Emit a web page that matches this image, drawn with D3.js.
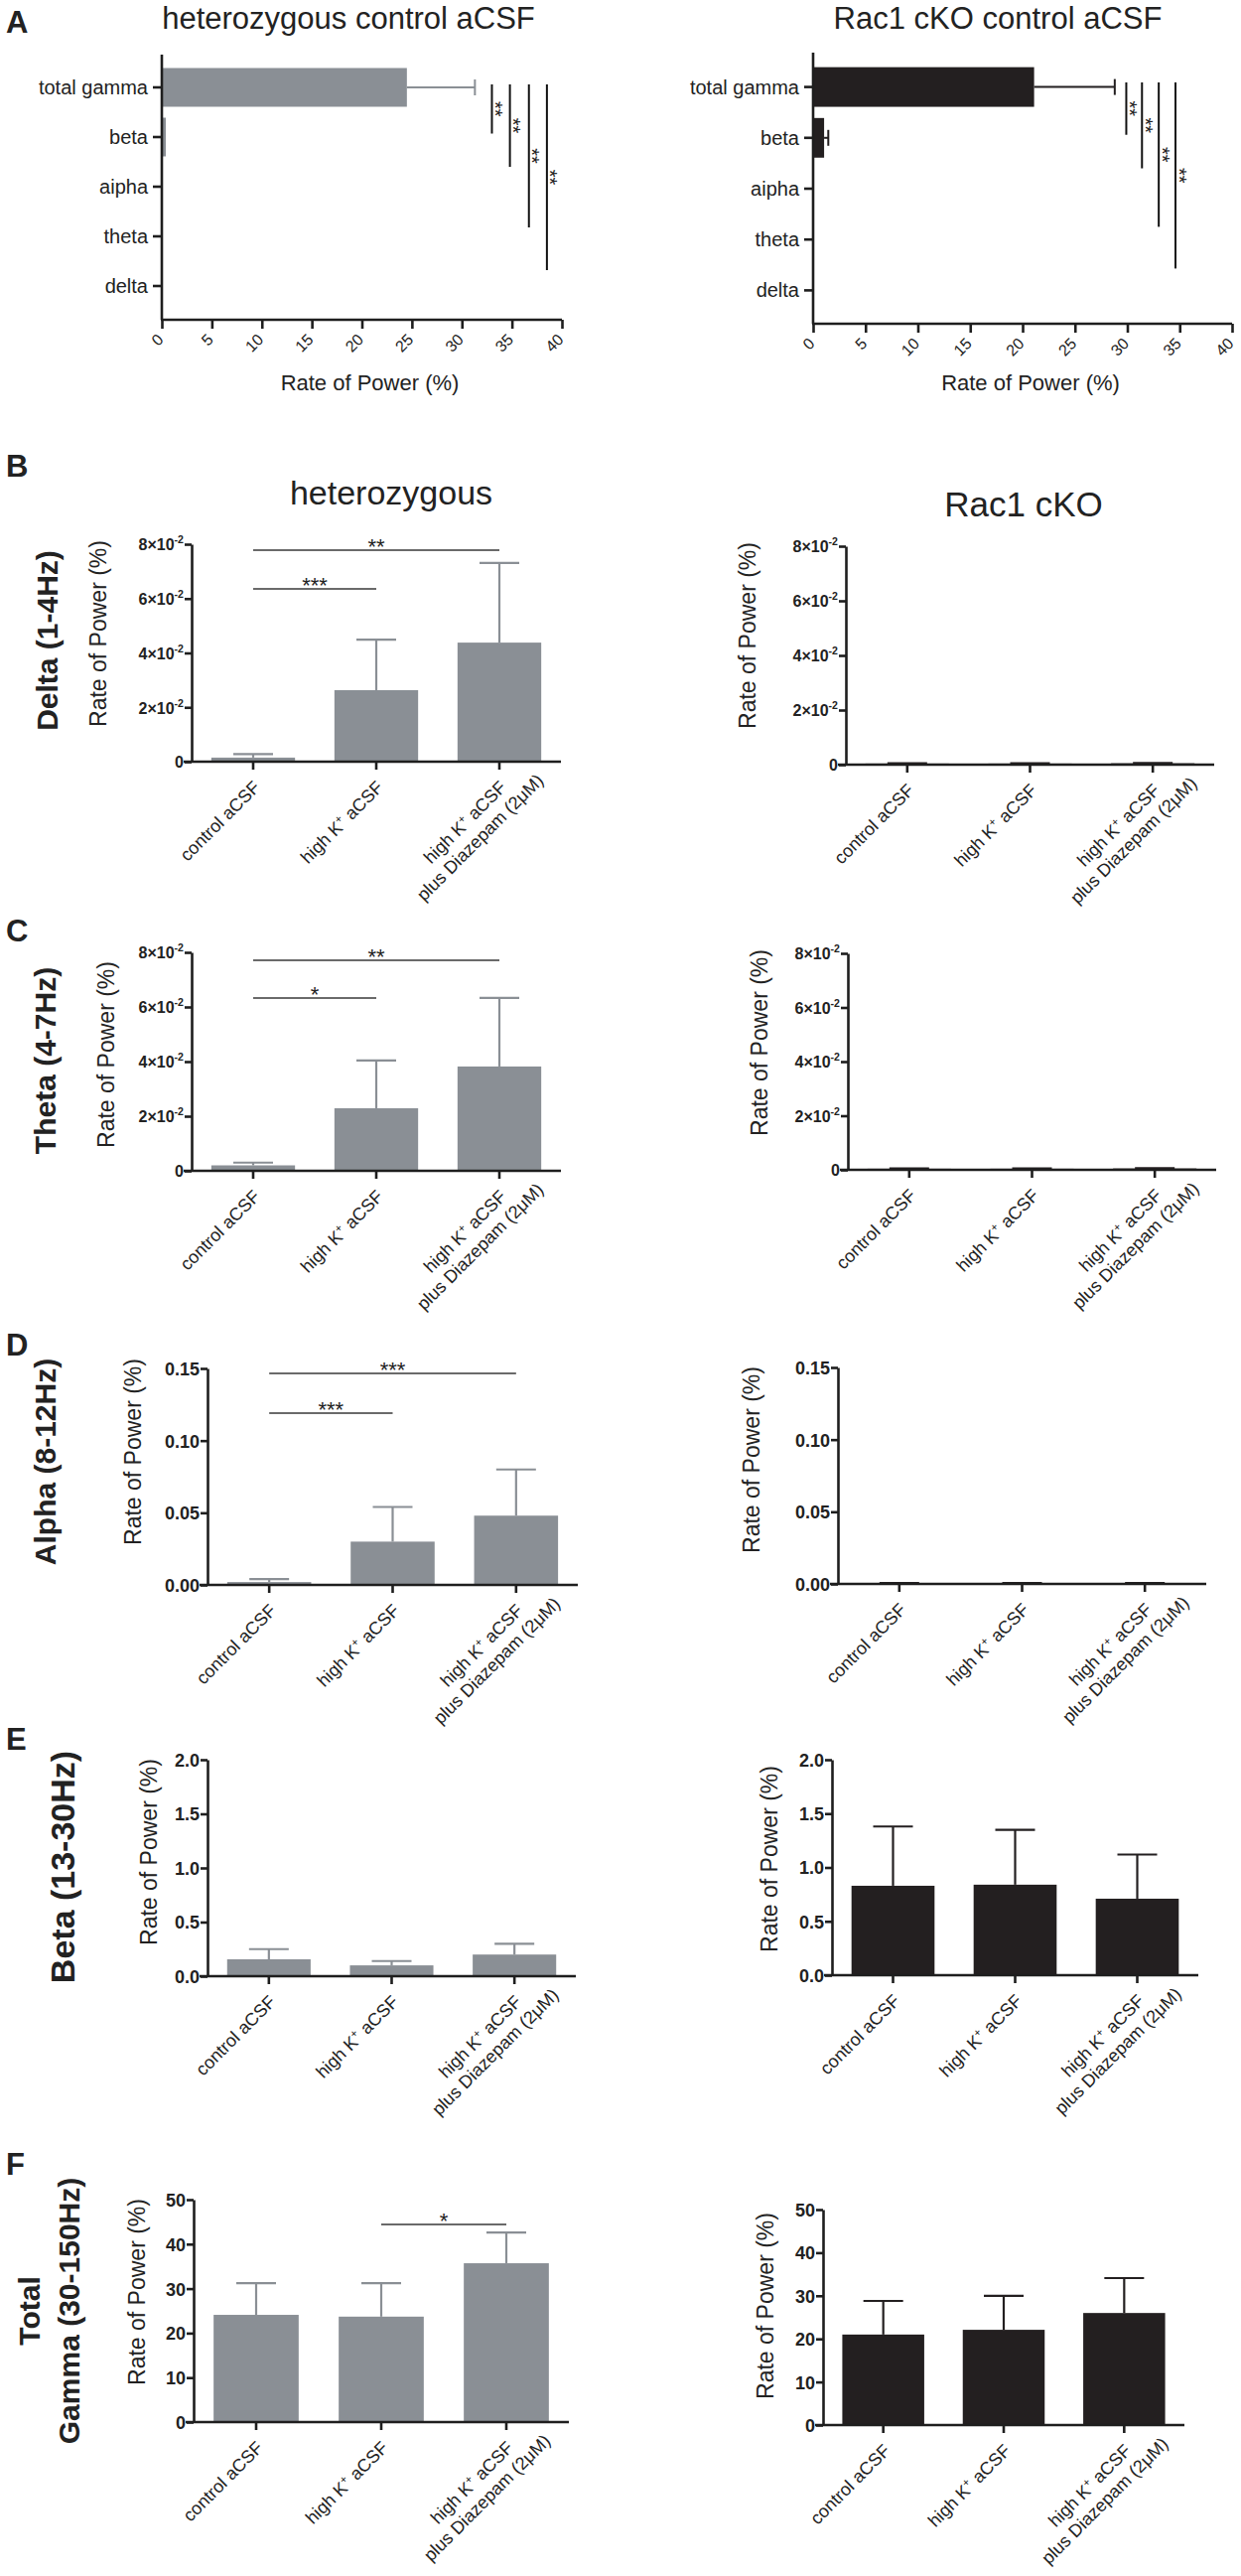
<!DOCTYPE html>
<html>
<head>
<meta charset="utf-8">
<script src="https://cdn.jsdelivr.net/npm/d3@7"></script>
<style>
body { margin: 0; background: #fff; }
text { font-family: "Liberation Sans", Arial, sans-serif; fill: #222; }
</style>
</head>
<body>
<script>
var width = 1250,
    height = 2594;

// ---------- data ----------
// panel A : control aCSF, rate of power per band
var bands = ['total gamma', 'beta', 'aipha', 'theta', 'delta'];
var hetCtrl    = [24.5, 0.4, 0.003, 0.002, 0.0015];
var hetCtrlErr = [6.8, 0, 0, 0, 0];
var koCtrl     = [21.1, 1.05, 0.0005, 0.0004, 0.0004];
var koCtrlErr  = [7.7, 0.4, 0, 0, 0];
var powerTicks = [0, 5, 10, 15, 20, 25, 30, 35, 40];
// significance lines in A: x position (%), end position (band index)
var hetSigA = [{x: 33.0, to: 0.93}, {x: 34.8, to: 1.6}, {x: 36.7, to: 2.82}, {x: 38.5, to: 3.68}];
var koSigA  = [{x: 29.9, to: 0.94}, {x: 31.4, to: 1.6}, {x: 33.0, to: 2.75}, {x: 34.6, to: 3.57}];

// panels B-F : three conditions ("|" = line break)
var conditions = ['control aCSF', 'high K+ aCSF', 'high K+ aCSF|plus Diazepam (2μM)'];

var deltaHet = [0.0015, 0.0263, 0.0438], deltaHetErr = [0.0013, 0.0186, 0.0293];
var deltaKo  = [0.0004, 0.0004, 0.0005], deltaKoErr  = [0.0001, 0.0001, 0.0001];
var deltaSig = [{a: 0, b: 1, y: 0.0636, t: '***'}, {a: 0, b: 2, y: 0.0778, t: '**'}];
var sciTicks = [0, 0.02, 0.04, 0.06, 0.08];

var thetaHet = [0.002, 0.0229, 0.0382], thetaHetErr = [0.001, 0.0175, 0.0251];
var thetaKo  = [0.0004, 0.0004, 0.0005], thetaKoErr  = [0.0001, 0.0001, 0.0001];
var thetaSig = [{a: 0, b: 1, y: 0.0633, t: '*'}, {a: 0, b: 2, y: 0.0771, t: '**'}];

var alphaHet = [0.002, 0.030, 0.048], alphaHetErr = [0.002, 0.024, 0.032];
var alphaKo  = [0.0005, 0.0005, 0.0006], alphaKoErr = [0.0001, 0.0001, 0.0001];
var alphaSig = [{a: 0, b: 1, y: 0.119, t: '***'}, {a: 0, b: 2, y: 0.1465, t: '***'}];
var alphaTicks = [0, 0.05, 0.10, 0.15];

var betaHet = [0.156, 0.10, 0.20], betaHetErr = [0.094, 0.04, 0.10];
var betaKo  = [0.83, 0.84, 0.71],  betaKoErr  = [0.55, 0.51, 0.41];
var betaTicks = [0, 0.5, 1.0, 1.5, 2.0];

var gammaHet = [24.1, 23.7, 35.7], gammaHetErr = [7.1, 7.5, 6.9];
var gammaKo  = [21.0, 22.1, 26.0], gammaKoErr  = [7.8, 7.9, 8.1];
var gammaSig = [{a: 1, b: 2, y: 44.4, t: '*'}];
var gammaTicks = [0, 10, 20, 30, 40, 50];

var hetColor = '#8a8f95',
    koColor = '#231f20',
    axisColor = '#1e1e1e';

var svg = d3.select('body')
            .append('svg')
            .attr('width', width)
            .attr('height', height);

// text with a superscript "+" after K
function richText(t, str) {
    if (str.indexOf('K+') < 0) { t.append('tspan').text(str); return; }
    var parts = str.split('K+');
    t.append('tspan').text(parts[0] + 'K');
    t.append('tspan').attr('dy', -7).attr('font-size', '0.62em').text('+');
    t.append('tspan').attr('dy', 7).text(parts[1]);
}

function styleAxis(g) {
    g.attr('color', axisColor);
    g.selectAll('path, line').attr('stroke-width', 2.6);
}

function letter(txt, y) {
    svg.append('text').attr('x', 6).attr('y', y)
       .attr('font-size', 31).attr('font-weight', 'bold').attr('fill', '#000').text(txt);
}

function vtext(txt, x, y, size, weight) {
    return svg.append('text')
       .attr('transform', 'translate(' + x + ',' + y + ') rotate(-90)')
       .attr('text-anchor', 'middle')
       .attr('font-size', size)
       .attr('font-weight', weight || 'normal')
       .text(txt);
}

// ---------- panel A ----------
function drawA(geo, vals, errs, color, sigs, title) {
    var x = d3.scaleLinear().domain([0, 40]).range([geo.x0, geo.x1]);
    var y = d3.scaleBand().domain(bands).range([geo.b0, geo.b1]).paddingInner(0.22).paddingOuter(0.11);
    var yi = d3.scaleLinear().domain([0, 4]).range([y(bands[0]) + y.bandwidth() / 2, y(bands[4]) + y.bandwidth() / 2]);
    var yc = i => y(bands[i]) + y.bandwidth() / 2;
    var g = svg.append('g');

    g.selectAll('.bar').data(vals).enter().append('rect')
        .attr('x', geo.x0)
        .attr('y', (d, i) => y(bands[i]))
        .attr('width', d => x(d) - geo.x0)
        .attr('height', y.bandwidth())
        .attr('fill', color);

    var idx = d3.range(vals.length).filter(i => errs[i] > 0);
    var eb = g.selectAll('.err').data(idx).enter().append('g')
        .attr('stroke', color).attr('stroke-width', 2);
    eb.append('line')
        .attr('x1', i => x(vals[i])).attr('x2', i => x(vals[i] + errs[i]))
        .attr('y1', yc).attr('y2', yc);
    eb.append('line')
        .attr('x1', i => x(vals[i] + errs[i])).attr('x2', i => x(vals[i] + errs[i]))
        .attr('y1', i => yc(i) - 8).attr('y2', i => yc(i) + 8);

    var xa = g.append('g').attr('transform', 'translate(0,' + geo.yb + ')')
        .call(d3.axisBottom(x).tickValues(powerTicks).tickSize(9).tickSizeOuter(0).tickFormat(''));
    xa.select('.domain').attr('d', 'M' + (geo.x0 - 1) + ',0H' + geo.x1);
    styleAxis(xa);
    xa.selectAll('.tick').append('text')
        .attr('transform', 'translate(2,21) rotate(-45)')
        .attr('text-anchor', 'end')
        .attr('font-size', 16)
        .text(d => d);

    var ya = g.append('g').attr('transform', 'translate(' + geo.x0 + ',0)')
        .call(d3.axisLeft(y).tickSize(9).tickSizeOuter(0).tickFormat(''));
    ya.select('.domain').attr('d', 'M0,' + geo.yt + 'V' + geo.yb);
    styleAxis(ya);
    ya.selectAll('.tick').append('text')
        .attr('x', -14).attr('dy', '0.35em')
        .attr('text-anchor', 'end')
        .attr('font-size', 20)
        .text(d => d);

    var sg = g.selectAll('.sig').data(sigs).enter().append('g');
    sg.append('line')
        .attr('x1', d => x(d.x)).attr('x2', d => x(d.x))
        .attr('y1', geo.yt + 30).attr('y2', d => yi(d.to))
        .attr('stroke', '#111').attr('stroke-width', 2);
    sg.append('text')
        .attr('transform', d => 'translate(' + (x(d.x) + 8) + ',' + ((geo.yt + 30 + yi(d.to)) / 2) + ') rotate(90)')
        .attr('text-anchor', 'middle').attr('dy', '0.57em')
        .attr('font-size', 20).text('**');

    svg.append('text').attr('x', geo.tx).attr('y', 29)
        .attr('text-anchor', 'middle').attr('font-size', 31).text(title);
    svg.append('text').attr('x', (geo.x0 + geo.x1) / 2 + 8).attr('y', 393)
        .attr('text-anchor', 'middle').attr('font-size', 22).text('Rate of Power (%)');
}

letter('A', 33);
drawA({x0: 163, x1: 566, b0: 63, b1: 313, yt: 55, yb: 322, tx: 351}, hetCtrl, hetCtrlErr, hetColor, hetSigA, 'heterozygous control aCSF');
drawA({x0: 819, x1: 1241, b0: 62, b1: 318, yt: 53, yb: 326, tx: 1005}, koCtrl, koCtrlErr, koColor, koSigA, 'Rac1 cKO control aCSF');

// ---------- panels B-F ----------
function fmtTick(t, v, fmt) {
    if (fmt === 'sci') {
        if (v === 0) { t.text('0'); return; }
        t.append('tspan').text(Math.round(v * 100) + '×10');
        t.append('tspan').attr('dy', -7).attr('font-size', '0.66em').text('-2');
    } else {
        t.text(d3.format(fmt)(v));
    }
}

function catLabel(g, cx, axisY, label) {
    var lines = label.split('|');
    var fs = 18;
    var lg = g.append('g').attr('transform', 'translate(' + (cx + 8) + ',' + (axisY + 27) + ') rotate(-45)');
    var t1 = lg.append('text').attr('text-anchor', 'end').attr('font-size', fs);
    richText(t1, lines[0]);
    if (lines.length > 1) {
        var w1 = t1.node().getComputedTextLength();
        t1.attr('text-anchor', 'middle').attr('x', -w1 / 2);
        var t2 = lg.append('text').attr('text-anchor', 'middle')
            .attr('x', -w1 / 2).attr('y', fs * 1.2).attr('font-size', fs);
        richText(t2, lines[1]);
    }
}

function drawBars(geo, row, vals, errs, color, sigs) {
    var x = d3.scaleBand().domain(d3.range(conditions.length)).range([geo.x0, geo.x1])
        .paddingInner(0.32).paddingOuter(0.16);
    var y = d3.scaleLinear().domain([0, row.max]).range([geo.yZero, geo.yTop]);
    var g = svg.append('g');

    g.selectAll('.bar').data(vals).enter().append('rect')
        .attr('x', (d, i) => x(i))
        .attr('width', x.bandwidth())
        .attr('y', d => y(d))
        .attr('height', d => geo.yZero - y(d))
        .attr('fill', color);

    var cx = i => x(i) + x.bandwidth() / 2;
    var eb = g.selectAll('.err').data(vals).enter().append('g')
        .attr('stroke', color).attr('stroke-width', 2.2);
    eb.append('line')
        .attr('x1', (d, i) => cx(i)).attr('x2', (d, i) => cx(i))
        .attr('y1', d => y(d)).attr('y2', (d, i) => y(d + errs[i]));
    eb.append('line')
        .attr('x1', (d, i) => cx(i) - 20).attr('x2', (d, i) => cx(i) + 20)
        .attr('y1', (d, i) => y(d + errs[i])).attr('y2', (d, i) => y(d + errs[i]));

    var ya = g.append('g').attr('transform', 'translate(' + geo.x0 + ',0)')
        .call(d3.axisLeft(y).tickValues(row.ticks).tickSize(7).tickSizeOuter(0).tickFormat(''));
    styleAxis(ya);
    ya.selectAll('.tick').append('text')
        .attr('x', -8).attr('dy', '0.36em')
        .attr('text-anchor', 'end')
        .attr('font-size', row.fmt === 'sci' ? 16 : 18)
        .attr('font-weight', 'bold')
        .each(function(d) { fmtTick(d3.select(this), d, row.fmt); });

    var xa = g.append('g').attr('transform', 'translate(0,' + geo.yZero + ')')
        .call(d3.axisBottom(x).tickSize(8).tickSizeOuter(0).tickFormat(''));
    xa.select('.domain').attr('d', 'M' + (geo.x0 - 8) + ',0H' + geo.x1);
    styleAxis(xa);
    conditions.forEach(function(c, i) { catLabel(g, cx(i), geo.yZero, c); });

    var sg = g.selectAll('.sig').data(sigs).enter().append('g');
    sg.append('line')
        .attr('x1', d => cx(d.a)).attr('x2', d => cx(d.b))
        .attr('y1', d => y(d.y)).attr('y2', d => y(d.y))
        .attr('stroke', '#6a6a6a').attr('stroke-width', 2);
    sg.append('text')
        .attr('x', d => (cx(d.a) + cx(d.b)) / 2)
        .attr('y', d => y(d.y) + 4)
        .attr('text-anchor', 'middle')
        .attr('font-size', 22).attr('fill', '#333')
        .text(d => d.t);

    vtext('Rate of Power (%)', geo.tx, geo.ty, 23);
}

var rows = [
    {letter: 'B', ly: 480, name: ['Delta (1-4Hz)'], nx: [58], ny: 645, ns: 30,
     het: {x0: 193, x1: 565, yTop: 548, yZero: 767, tx: 107, ty: 638},
     ko:  {x0: 852, x1: 1223, yTop: 550, yZero: 770, tx: 761, ty: 640},
     max: 0.08, ticks: sciTicks, fmt: 'sci',
     hv: deltaHet, he: deltaHetErr, kv: deltaKo, ke: deltaKoErr, sig: deltaSig},
    {letter: 'C', ly: 948, name: ['Theta (4-7Hz)'], nx: [56], ny: 1068, ns: 30,
     het: {x0: 193, x1: 565, yTop: 959, yZero: 1179, tx: 115, ty: 1062},
     ko:  {x0: 854, x1: 1225, yTop: 960, yZero: 1178, tx: 773, ty: 1050},
     max: 0.08, ticks: sciTicks, fmt: 'sci',
     hv: thetaHet, he: thetaHetErr, kv: thetaKo, ke: thetaKoErr, sig: thetaSig},
    {letter: 'D', ly: 1365, name: ['Alpha (8-12Hz)'], nx: [56], ny: 1472, ns: 30,
     het: {x0: 209, x1: 582, yTop: 1378, yZero: 1596, tx: 142, ty: 1462},
     ko:  {x0: 844, x1: 1215, yTop: 1377, yZero: 1595, tx: 765, ty: 1470},
     max: 0.15, ticks: alphaTicks, fmt: '.2f',
     hv: alphaHet, he: alphaHetErr, kv: alphaKo, ke: alphaKoErr, sig: alphaSig},
    {letter: 'E', ly: 1762, name: ['Beta (13-30Hz)'], nx: [75], ny: 1880, ns: 34,
     het: {x0: 209, x1: 580, yTop: 1772, yZero: 1990, tx: 158, ty: 1865},
     ko:  {x0: 838, x1: 1207, yTop: 1772, yZero: 1989, tx: 783, ty: 1872},
     max: 2.0, ticks: betaTicks, fmt: '.1f',
     hv: betaHet, he: betaHetErr, kv: betaKo, ke: betaKoErr, sig: []},
    {letter: 'F', ly: 2190, name: ['Total', 'Gamma  (30-150Hz)'], nx: [40, 80], ny: 2327, ns: 30,
     het: {x0: 195, x1: 573, yTop: 2215, yZero: 2439, tx: 146, ty: 2308},
     ko:  {x0: 829, x1: 1193, yTop: 2225, yZero: 2442, tx: 779, ty: 2322},
     max: 50, ticks: gammaTicks, fmt: 'd',
     hv: gammaHet, he: gammaHetErr, kv: gammaKo, ke: gammaKoErr, sig: gammaSig}
];

rows.forEach(function(r) {
    letter(r.letter, r.ly);
    r.name.forEach(function(n, i) { vtext(n, r.nx[i], r.ny, r.ns, 'bold'); });
    drawBars(r.het, r, r.hv, r.he, hetColor, r.sig);
    drawBars(r.ko, r, r.kv, r.ke, koColor, []);
});

svg.append('text').attr('x', 394).attr('y', 508).attr('text-anchor', 'middle')
   .attr('font-size', 34).text('heterozygous');
svg.append('text').attr('x', 1031).attr('y', 520).attr('text-anchor', 'middle')
   .attr('font-size', 35).text('Rac1 cKO');
</script>
</body>
</html>
